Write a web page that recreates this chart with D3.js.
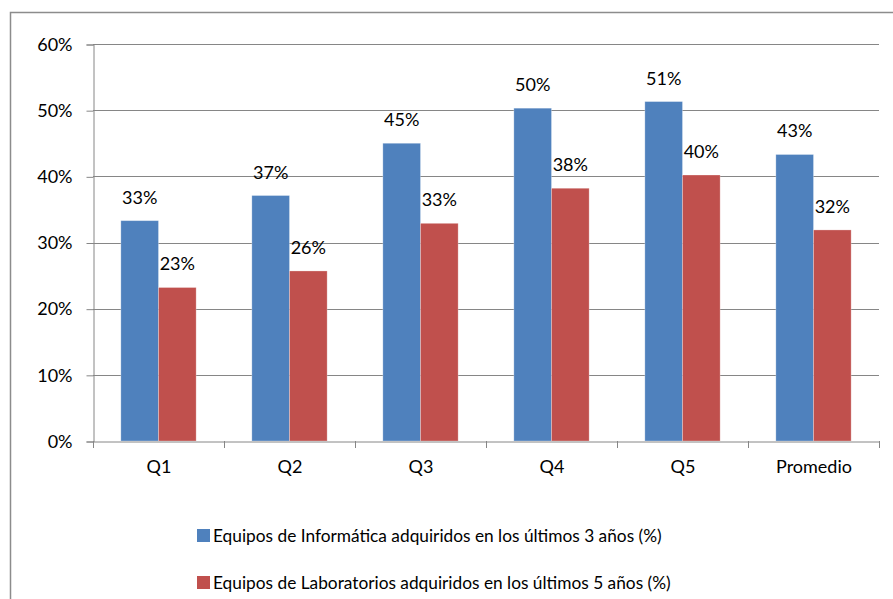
<!DOCTYPE html>
<html>
<head>
<meta charset="utf-8">
<script src="https://cdn.jsdelivr.net/npm/d3@7/dist/d3.min.js"></script>
<style>
  html, body { margin: 0; padding: 0; background: #fff; }
  svg { display: block; font-family: Lato, "Liberation Sans", sans-serif; }
</style>
</head>
<body>
<svg id="chart" width="893" height="599"></svg>
<script>
// Categories (quintiles plus the average)
const categories = ["Q1", "Q2", "Q3", "Q4", "Q5", "Promedio"];

// Share of equipment acquired, in percent
const informatica = [33.3, 37.1, 45.0, 50.3, 51.3, 43.3];
const laboratorios = [23.2, 25.7, 32.9, 38.2, 40.2, 31.9];

const seriesNames = [
  "Equipos de Informática adquiridos en los últimos 3 años (%)",
  "Equipos de Laboratorios adquiridos en los últimos 5 años (%)"
];
const seriesColors = ["#4F81BD", "#C0504D"];

const yTicks = [0, 10, 20, 30, 40, 50, 60];

const svg = d3.select("#chart");
const W = 893, H = 599;

// Outer chart border
svg.append("rect")
  .attr("x", 10.5).attr("y", 12.5)
  .attr("width", W).attr("height", H)
  .attr("fill", "none")
  .attr("stroke", "#8c8c8c")
  .attr("stroke-width", 1.5);

const plot = { left: 93, right: 879, top: 44, bottom: 441 };

const x = d3.scaleBand()
  .domain(categories)
  .range([plot.left, plot.right]);

const xs = d3.scaleBand()
  .domain([0, 1])
  .range([0, x.bandwidth()])
  .paddingInner(0)
  .paddingOuter(0.74);

const y = d3.scaleLinear()
  .domain([0, 60])
  .range([plot.bottom, plot.top]);

// Horizontal gridlines
svg.append("g")
  .selectAll("line")
  .data(yTicks.filter(d => d > 0))
  .join("line")
  .attr("x1", plot.left).attr("x2", plot.right)
  .attr("y1", d => Math.round(y(d)) + 0.5)
  .attr("y2", d => Math.round(y(d)) + 0.5)
  .attr("stroke", "#868686")
  .attr("stroke-width", 1);

// Y axis
const yAxis = svg.append("g")
  .attr("transform", `translate(${plot.left + 0.5},0.5)`)
  .call(d3.axisLeft(y).tickValues(yTicks).tickFormat(d => d + "%").tickSizeOuter(0).tickSize(7).tickPadding(14));
yAxis.select(".domain").attr("stroke", "#868686");
yAxis.selectAll(".tick line").attr("stroke", "#868686");
yAxis.selectAll(".tick text")
  .attr("font-size", 18)
  .attr("font-family", "Lato, 'Liberation Sans', sans-serif")
  .attr("fill", "#000");

// Bars
const series = [informatica, laboratorios];
series.forEach((vals, si) => {
  const g = svg.append("g");
  g.selectAll("rect")
    .data(vals)
    .join("rect")
    .attr("x", (d, i) => x(categories[i]) + xs(si))
    .attr("width", xs.bandwidth())
    .attr("y", d => y(d))
    .attr("height", d => plot.bottom - y(d))
    .attr("fill", seriesColors[si])
    .attr("stroke", "#ffffff")
    .attr("stroke-opacity", 0.35)
    .attr("stroke-width", 0.8);

  g.selectAll("text")
    .data(vals)
    .join("text")
    .attr("x", (d, i) => x(categories[i]) + xs(si) + xs.bandwidth() / 2)
    .attr("y", d => y(d) - 17)
    .attr("text-anchor", "middle")
    .attr("font-size", 18)
    .attr("fill", "#000")
    .text(d => Math.round(d) + "%");
});

// X axis
const xAxis = svg.append("g")
  .attr("transform", `translate(0.5,${plot.bottom + 0.5})`)
  .call(d3.axisBottom(x).tickSize(0).tickSizeOuter(0).tickPadding(19));
xAxis.select(".domain").attr("stroke", "#868686");
xAxis.selectAll(".tick text")
  .attr("font-size", 18)
  .attr("font-family", "Lato, 'Liberation Sans', sans-serif")
  .attr("fill", "#000");

// Category boundary ticks
const bounds = categories.map(c => x(c)).concat([plot.right]);
svg.append("g")
  .selectAll("line")
  .data(bounds)
  .join("line")
  .attr("x1", d => Math.round(d) + 0.5).attr("x2", d => Math.round(d) + 0.5)
  .attr("y1", plot.bottom).attr("y2", plot.bottom + 7)
  .attr("stroke", "#868686");

// Legend
const legend = svg.append("g").attr("transform", "translate(197,529)");
seriesNames.forEach((name, i) => {
  const row = legend.append("g").attr("transform", `translate(0,${i * 47})`);
  row.append("rect")
    .attr("width", 13).attr("height", 13)
    .attr("fill", seriesColors[i]);
  row.append("text")
    .attr("x", 16).attr("y", 13)
    .attr("font-size", 17.3)
    .attr("fill", "#000")
    .text(name);
});
</script>
</body>
</html>
